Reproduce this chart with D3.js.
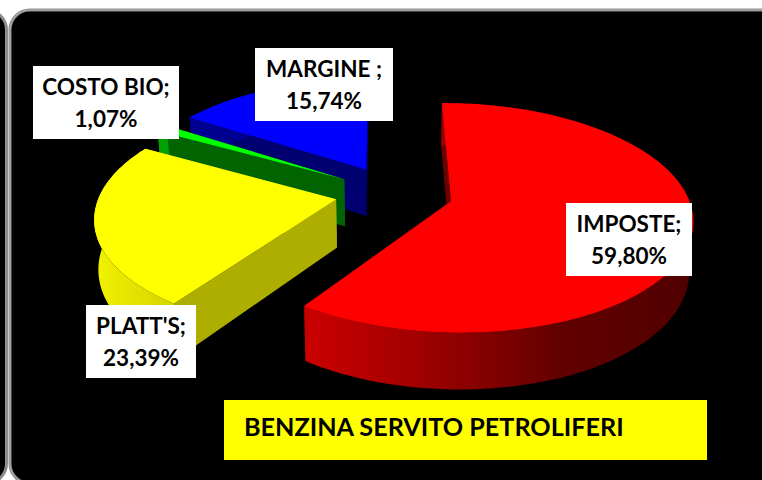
<!DOCTYPE html>
<html>
<head>
<meta charset="utf-8">
<style>html,body{margin:0;padding:0;background:#fff;overflow:hidden}</style>
<script src="https://cdn.jsdelivr.net/npm/d3@7"></script>
</head>
<body>
<svg id="c" width="762" height="480"></svg>
<script>
const categories = ["IMPOSTE", "PLATT'S", "COSTO BIO", "MARGINE "];
const values = [59.80, 23.39, 1.07, 15.74];
const valueLabels = ["59,80%", "23,39%", "1,07%", "15,74%"];
const title = "BENZINA SERVITO PETROLIFERI";
const topColors = ["#ff0000", "#ffff00", "#00ff00", "#0000ff"];
const wallColors = ["#6e0000", "#aeae00", "#006400", "#000070"];
const rimStops = [
  [[300, "#cc0000"], [400, "#a80000"], [470, "#8a0000"], [560, "#620000"], [690, "#500000"]],
  [[95, "#f2f200"], [175, "#d4d400"]],
  [[100, "#00a000"], [200, "#00a000"]],
  [[180, "#000090"], [370, "#000090"]]
];
const labelBoxes = [[566, 203, 126, 73], [86, 305, 110, 73], [33, 66, 146, 73], [255, 48, 138, 73]];

const svg = d3.select("#c");
const defs = svg.append("defs");
const FONT = "Lato, Carlito, sans-serif";

// background frame
svg.append("rect").attr("width", 762).attr("height", 480).attr("fill", "#fff");
svg.append("rect").attr("x", -60).attr("y", 10).attr("width", 66.5).attr("height", 473.5)
  .attr("rx", 20).attr("fill", "#000").attr("stroke", "#8c8c8c").attr("stroke-width", 3);
svg.append("rect").attr("x", 10).attr("y", 10).attr("width", 770).attr("height", 473.5)
  .attr("rx", 20).attr("fill", "#000").attr("stroke", "#8c8c8c").attr("stroke-width", 3);
svg.append("rect").attr("x", 10).attr("y", 10).attr("width", 770).attr("height", 473.5)
  .attr("rx", 20).attr("fill", "none").attr("stroke", "#b4b4b4").attr("stroke-width", 1);

// projection of the exploded pie plane with perspective
const cx = 394, cy = 193, RX = 236, RY = 110, K = 0.144, DEPTH = 48, SHRINK = 0.014, EXPLODE = 0.25;
const sx = d3.scaleLinear().domain([0, 1]).range([cx, cx + RX]);
const sy = d3.scaleLinear().domain([0, 1]).range([cy, cy + RY]);
function project(u, v, low) {
  const w = 1 - K * v;
  let x = sx(u / w), y = sy(v / w);
  if (low) { x = cx + (x - cx) * (1 - SHRINK); y += DEPTH / w; }
  return [x, y];
}
const line = d3.line();
const START = -0.5 * Math.PI / 180;
const pie = d3.pie().sort(null).startAngle(START).endAngle(START + 2 * Math.PI);
const arcs = pie(values);

arcs.forEach((a, i) => {
  const mid = (a.startAngle + a.endAngle) / 2;
  a.ou = EXPLODE * Math.sin(mid);
  a.ov = -EXPLODE * Math.cos(mid);
  const steps = Math.max(4, Math.ceil((a.endAngle - a.startAngle) / 0.02));
  a.rim = d3.range(steps + 1).map(k => {
    const t = a.startAngle + (a.endAngle - a.startAngle) * k / steps;
    return [a.ou + Math.sin(t), a.ov - Math.cos(t)];
  });
  a.apex = [a.ou, a.ov];
  const g = defs.append("linearGradient").attr("id", "rim" + i)
    .attr("gradientUnits", "userSpaceOnUse")
    .attr("x1", rimStops[i][0][0]).attr("x2", rimStops[i][rimStops[i].length - 1][0])
    .attr("y1", 0).attr("y2", 0);
  const x0 = rimStops[i][0][0], x1 = rimStops[i][rimStops[i].length - 1][0];
  rimStops[i].forEach(s => g.append("stop").attr("offset", (s[0] - x0) / (x1 - x0)).attr("stop-color", s[1]));
});

// painter's order: back slices first
const order = [3, 2, 1, 0];
order.forEach(i => {
  const a = arcs[i];
  const g = svg.append("g").attr("class", "slice");
  const first = a.rim[0], last = a.rim[a.rim.length - 1];
  const wall = p => [project(a.apex[0], a.apex[1], false), project(p[0], p[1], false),
                     project(p[0], p[1], true), project(a.apex[0], a.apex[1], true)];
  g.append("path").attr("d", line(wall(last)) + "Z").attr("fill", wallColors[i]);
  g.append("path").attr("d", line(wall(first)) + "Z").attr("fill", wallColors[i]);
  const upper = a.rim.map(p => project(p[0], p[1], false));
  const lower = a.rim.map(p => project(p[0], p[1], true)).reverse();
  g.append("path").attr("d", line(upper.concat(lower)) + "Z").attr("fill", "url(#rim" + i + ")");
  g.append("path").attr("d", line([project(a.apex[0], a.apex[1], false)].concat(upper)) + "Z")
    .attr("fill", topColors[i]);
});

// data labels
categories.forEach((c, i) => {
  const b = labelBoxes[i];
  svg.append("rect").attr("x", b[0]).attr("y", b[1]).attr("width", b[2]).attr("height", b[3]).attr("fill", "#fff");
  const t = svg.append("text").attr("text-anchor", "middle").attr("font-family", FONT)
    .attr("font-size", 22.5).attr("font-weight", 700).attr("fill", "#000");
  t.append("tspan").attr("x", b[0] + b[2] / 2).attr("y", b[1] + 29).text(c + ";");
  t.append("tspan").attr("x", b[0] + b[2] / 2).attr("y", b[1] + 61).text(valueLabels[i]);
});

// title box
svg.append("rect").attr("x", 224).attr("y", 400).attr("width", 483).attr("height", 60).attr("fill", "#ffff00");
svg.append("text").attr("x", 244).attr("y", 436).attr("font-family", FONT).attr("font-size", 25.2)
  .attr("font-weight", 700).attr("fill", "#000").text(title);
</script>
</body>
</html>
